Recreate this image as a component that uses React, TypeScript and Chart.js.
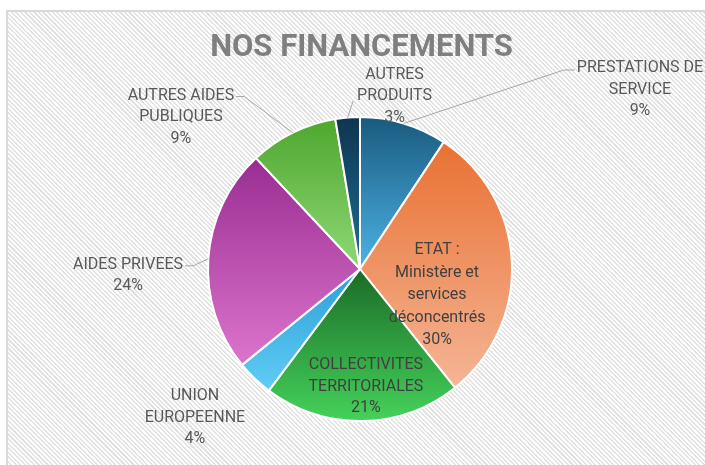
import React, { useEffect, useRef } from "react";
import { Chart, registerables } from "chart.js";

Chart.register(...registerables);

const title = "NOS FINANCEMENTS";
const categories = [
  "PRESTATIONS DE SERVICE",
  "ETAT : Ministère et services déconcentrés",
  "COLLECTIVITES TERRITORIALES",
  "UNION EUROPEENNE",
  "AIDES PRIVEES",
  "AUTRES AIDES PUBLIQUES",
  "AUTRES PRODUITS",
];
const labelLines = [
  ["PRESTATIONS DE", "SERVICE"],
  ["ETAT :", "Ministère et", "services", "déconcentrés"],
  ["COLLECTIVITES", "TERRITORIALES"],
  ["UNION", "EUROPEENNE"],
  ["AIDES PRIVEES"],
  ["AUTRES AIDES", "PUBLIQUES"],
  ["AUTRES", "PRODUITS"],
];
const values = [9.3, 30.0, 21.0, 3.9, 23.9, 9.4, 2.6];

const topColors = ["#195a7e", "#e97132", "#1b6b27", "#2a9fd6", "#9a2d92", "#4ea72e", "#0f3550"];
const bottomColors = ["#4db3e6", "#f5b596", "#45d25a", "#62cdf5", "#dc74cc", "#8fd876", "#1e6f98"];

// label placement relative to pie centre, in units of radius
const labelLayout = [
  { dx: 1.842, dy: -1.194, leader: "left", inside: false, lh: 21.5 },
  { dx: 0.507, dy: 0.158, leader: null, inside: true, lh: 22.5 },
  { dx: 0.039, dy: 0.76, leader: null, inside: true, lh: 21.5 },
  { dx: -1.086, dy: 0.964, leader: null, inside: false, lh: 21.5 },
  { dx: -1.526, dy: 0.03, leader: "right", inside: false, lh: 21.5 },
  { dx: -1.178, dy: -1.013, leader: "right", inside: false, lh: 21.5 },
  { dx: 0.227, dy: -1.151, leader: "corner", inside: false, lh: 21.5 },
];

const BORDER = 2;

function sliceYRange(cy: number, r: number, s: number, e: number) {
  let ymin = Math.min(cy, cy + r * Math.sin(s), cy + r * Math.sin(e));
  let ymax = Math.max(cy, cy + r * Math.sin(s), cy + r * Math.sin(e));
  const contains = (a: number) => {
    for (let k = -3; k <= 3; k++) {
      const t = a + 2 * Math.PI * k;
      if (t >= s && t <= e) return true;
    }
    return false;
  };
  if (contains(Math.PI / 2)) ymax = cy + r;
  if (contains(-Math.PI / 2)) ymin = cy - r;
  return [ymin, ymax];
}

const decorPlugin = {
  id: "decor",
  afterDatasetsDraw(chart: any) {
    const ctx = chart.ctx;
    const meta = chart.getDatasetMeta(0);
    const total = values.reduce((a, b) => a + b, 0);
    // title
    ctx.save();
    ctx.font = "bold 31px Roboto";
    ctx.fillStyle = "#7f7f7f";
    ctx.textAlign = "center";
    ctx.textBaseline = "middle";
    const area = chart.chartArea;
    ctx.fillText(title, (area.left + area.right) / 2 + 1.5, 48);
    ctx.restore();

    meta.data.forEach((arc: any, i: number) => {
      const { x, y, startAngle, endAngle, outerRadius } = arc;
      const r = outerRadius;
      const L = labelLayout[i];
      const lines = [...labelLines[i], Math.round((values[i] / total) * 100) + "%"];
      const bx = x + L.dx * r;
      const by = y + L.dy * r;
      const y1 = by - ((lines.length - 1) * L.lh) / 2;
      ctx.save();
      ctx.font = "16px Roboto";
      ctx.textAlign = "center";
      ctx.textBaseline = "middle";
      ctx.fillStyle = L.inside ? "#404040" : "#595959";
      lines.forEach((t, k) => ctx.fillText(t, bx, y1 + k * L.lh + 2));

      if (L.leader) {
        const mid = (startAngle + endAngle) / 2;
        const px = x + r * Math.cos(mid);
        const py = y + r * Math.sin(mid);
        ctx.strokeStyle = "#a6a6a6";
        ctx.lineWidth = 1;
        ctx.beginPath();
        ctx.moveTo(px, py);
        if (L.leader === "left") {
          const w1 = ctx.measureText(lines[0]).width;
          const ex = bx - w1 / 2 - 2;
          const ey = y1 + 4;
          ctx.lineTo(ex - 11, ey);
          ctx.lineTo(ex, ey);
        } else if (L.leader === "right") {
          const w1 = ctx.measureText(lines[0]).width;
          const ex = bx + w1 / 2 + 2;
          const ey = y1 + 3;
          ctx.lineTo(ex + 8, ey);
          ctx.lineTo(ex, ey);
        } else {
          const W = Math.max(...lines.map((t) => ctx.measureText(t).width));
          ctx.lineTo(bx - W / 2 - 4, by + 7);
        }
        ctx.stroke();
      }
      ctx.restore();
    });
  },
};

export default function App() {
  const ref = useRef<HTMLCanvasElement | null>(null);
  useEffect(() => {
    if (!ref.current) return;
    const chart = new Chart(ref.current, {
      type: "pie",
      data: {
        labels: categories,
        datasets: [
          {
            data: values,
            borderColor: "#ffffff",
            borderWidth: BORDER,
            hoverOffset: 0,
            offset: 0,
            backgroundColor: (c: any) => {
              const chartObj = c.chart;
              const area = chartObj.chartArea;
              const i = c.dataIndex;
              if (!area || i === undefined) return topColors[i ?? 0];
              const w = area.right - area.left;
              const h = area.bottom - area.top;
              const cx = (area.left + area.right) / 2;
              const cy = (area.top + area.bottom) / 2;
              const r = (Math.min(w, h) - BORDER) / 2;
              const total = values.reduce((a, b) => a + b, 0);
              let before = 0;
              for (let k = 0; k < i; k++) before += values[k];
              const s = -Math.PI / 2 + (2 * Math.PI * before) / total;
              const e = s + (2 * Math.PI * values[i]) / total;
              const [y0, y1] = sliceYRange(cy, r, s, e);
              const g = chartObj.ctx.createLinearGradient(0, y0, 0, y1);
              g.addColorStop(0, topColors[i]);
              g.addColorStop(1, bottomColors[i]);
              return g;
            },
          } as any,
        ],
      },
      options: {
        responsive: false,
        animation: false,
        devicePixelRatio: 1,
        layout: { padding: { top: 116, left: 207, right: 192, bottom: 43 } },
        plugins: {
          legend: { display: false },
          tooltip: { enabled: false },
          title: { display: false },
        },
        events: [],
      } as any,
      plugins: [decorPlugin],
    });
    return () => chart.destroy();
  }, []);

  return (
    <div
      style={{
        position: "fixed",
        left: 0,
        top: 0,
        width: 705,
        height: 465,
        background: "#ffffff",
        overflow: "hidden",
      }}
    >
      <div
        style={{
          position: "absolute",
          left: 6,
          top: 10,
          width: 760,
          height: 520,
          boxSizing: "border-box",
          border: "2px solid #d9d9d9",
          background:
            "repeating-linear-gradient(45deg, #ffffff 0px, #ffffff 1.7px, #e2e2e2 1.7px, #e2e2e2 3.2px)",
        }}
      />
      <canvas
        ref={ref}
        width={705}
        height={465}
        style={{ position: "absolute", left: 0, top: 0, width: 705, height: 465 }}
      />
    </div>
  );
}
